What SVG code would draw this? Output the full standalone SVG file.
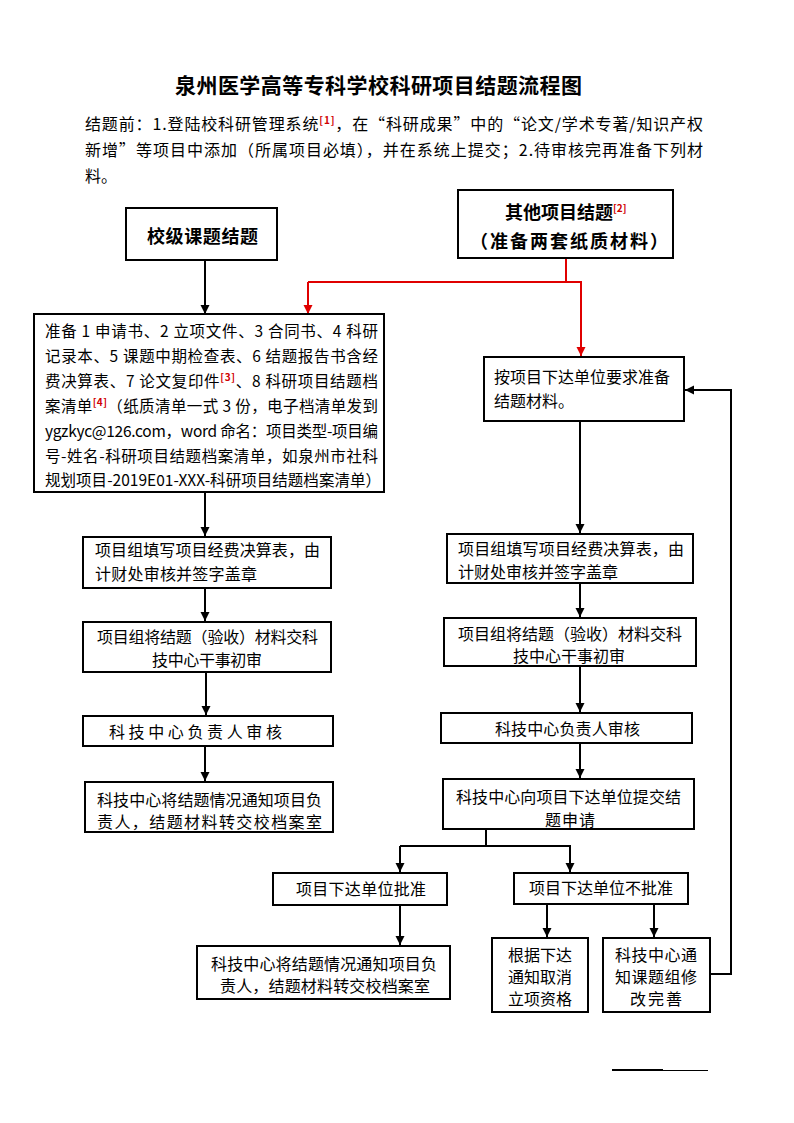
<svg xmlns="http://www.w3.org/2000/svg" width="794" height="1123" viewBox="0 0 794 1123">
<style>
text{font-family:"Noto Sans CJK SC","Liberation Sans",sans-serif;font-size:16px;fill:#000}
.s{font-size:15.5px}
.t{font-size:21px;font-weight:bold}
.h{font-size:18px;font-weight:bold}
.sup{font-size:10px;font-weight:bold;fill:#d00000}
rect{fill:#fff;stroke:#000;stroke-width:2}
.c{fill:none;stroke:#000;stroke-width:2}
.r{fill:none;stroke:#e00000;stroke-width:2}
</style>
<defs>
<marker id="a" markerUnits="userSpaceOnUse" markerWidth="10" markerHeight="10" refX="9" refY="4.5" orient="auto"><path d="M0,0 L9,4.5 L0,9 z" fill="#000"/></marker>
<marker id="ar" markerUnits="userSpaceOnUse" markerWidth="10" markerHeight="10" refX="9" refY="4.5" orient="auto"><path d="M0,0 L9,4.5 L0,9 z" fill="#e00000"/></marker>
</defs>
<rect width="794" height="1123" style="fill:#fff;stroke:none"/>

<g id="title">
<text class="t" x="175" y="93" textLength="407" lengthAdjust="spacing">泉州医学高等专科学校科研项目结题流程图</text>
</g>
<g id="intro">
<text x="85" y="130" textLength="618" lengthAdjust="spacing">结题前：1.登陆校科研管理系统<tspan class="sup" dy="-6">[1]</tspan><tspan dy="6">，在“科研成果”中的“论文/学术专著/知识产权</tspan></text>
<text x="85" y="156" textLength="618" lengthAdjust="spacing">新增”等项目中添加（所属项目必填），并在系统上提交；2.待审核完再准备下列材</text>
<text x="85" y="182">料。</text>
</g>

<g id="connectors">
<line class="c" x1="205" y1="260" x2="205" y2="314" marker-end="url(#a)"/>
<polyline class="r" points="566,258 566,282"/>
<polyline class="r" points="308,282 581,282 581,356" marker-end="url(#ar)"/>
<line class="r" x1="308" y1="282" x2="308" y2="314" marker-end="url(#ar)"/>
<line class="c" x1="205" y1="492" x2="205" y2="536" marker-end="url(#a)"/>
<line class="c" x1="205" y1="588" x2="205" y2="621" marker-end="url(#a)"/>
<line class="c" x1="206" y1="672" x2="206" y2="715" marker-end="url(#a)"/>
<line class="c" x1="205" y1="746" x2="205" y2="781" marker-end="url(#a)"/>
<line class="c" x1="580" y1="421" x2="580" y2="533" marker-end="url(#a)"/>
<line class="c" x1="580" y1="583" x2="580" y2="617" marker-end="url(#a)"/>
<line class="c" x1="580" y1="666" x2="580" y2="712" marker-end="url(#a)"/>
<line class="c" x1="580" y1="743" x2="580" y2="778" marker-end="url(#a)"/>
<polyline class="c" points="486,829 486,846"/>
<polyline class="c" points="400,846 570,846 570,872" marker-end="url(#a)"/>
<line class="c" x1="400" y1="846" x2="400" y2="872" marker-end="url(#a)"/>
<line class="c" x1="400" y1="905" x2="400" y2="945" marker-end="url(#a)"/>
<line class="c" x1="547" y1="904" x2="547" y2="937" marker-end="url(#a)"/>
<line class="c" x1="654" y1="904" x2="654" y2="937" marker-end="url(#a)"/>
<polyline class="c" points="710,974 731,974 731,390 685,390" marker-end="url(#a)"/>
<line x1="612" y1="1070" x2="663" y2="1070" stroke="#000" stroke-width="2"/>
<line x1="663" y1="1070.5" x2="708" y2="1070.5" stroke="#000" stroke-width="1"/>
</g>

<g id="n-school">
<rect x="126" y="208" width="151" height="52"/>
<text class="h" x="147" y="243" textLength="111" lengthAdjust="spacing">校级课题结题</text>
</g>
<g id="n-other">
<rect x="458" y="190" width="215" height="68"/>
<text class="h" x="505" y="219">其他项目结题<tspan class="sup" dy="-7">[2]</tspan></text>
<text class="h" x="470" y="248" textLength="198" lengthAdjust="spacing">（准备两套纸质材料）</text>
</g>
<g id="n-list">
<rect x="34" y="314" width="350" height="178"/>
<text class="s" x="45" y="337" textLength="333" lengthAdjust="spacing">准备 1 申请书、2 立项文件、3 合同书、4 科研</text>
<text class="s" x="45" y="362" textLength="333" lengthAdjust="spacing">记录本、5 课题中期检查表、6 结题报告书含经</text>
<text class="s" x="45" y="387" textLength="333" lengthAdjust="spacing">费决算表、7 论文复印件<tspan class="sup" dy="-6">[3]</tspan><tspan dy="6">、8 科研项目结题档</tspan></text>
<text class="s" x="45" y="412" textLength="333" lengthAdjust="spacing">案清单<tspan class="sup" dy="-6">[4]</tspan><tspan dy="6">（纸质清单一式 3 份，电子档清单发到</tspan></text>
<text class="s" x="45" y="437" textLength="333" lengthAdjust="spacing">ygzkyc@126.com，word 命名：项目类型-项目编</text>
<text class="s" x="45" y="462" textLength="333" lengthAdjust="spacing">号-姓名-科研项目结题档案清单，如泉州市社科</text>
<text class="s" x="45" y="486" textLength="336" lengthAdjust="spacing">规划项目-2019E01-XXX-科研项目结题档案清单）</text>
</g>
<g id="n-l1">
<rect x="83" y="537" width="248" height="51"/>
<text x="95" y="556" textLength="225" lengthAdjust="spacing">项目组填写项目经费决算表，由</text>
<text x="95" y="580" textLength="162" lengthAdjust="spacing">计财处审核并签字盖章</text>
</g>
<g id="n-l2">
<rect x="83" y="622" width="248" height="50"/>
<text x="97" y="643" textLength="221" lengthAdjust="spacing">项目组将结题（验收）材料交科</text>
<text x="152" y="666" textLength="110" lengthAdjust="spacing">技中心干事初审</text>
</g>
<g id="n-l3">
<rect x="83" y="716" width="250" height="30"/>
<text x="109" y="738" textLength="173" lengthAdjust="spacing">科技中心负责人审核</text>
</g>
<g id="n-l4">
<rect x="85" y="782" width="248" height="50"/>
<text x="97" y="806" textLength="225" lengthAdjust="spacing">科技中心将结题情况通知项目负</text>
<text x="97" y="828" textLength="225" lengthAdjust="spacing">责人，结题材料转交校档案室</text>
</g>
<g id="n-r0">
<rect x="484" y="357" width="200" height="64"/>
<text x="494" y="383" textLength="176" lengthAdjust="spacing">按项目下达单位要求准备</text>
<text x="494" y="407" textLength="80" lengthAdjust="spacing">结题材料。</text>
</g>
<g id="n-r1">
<rect x="447" y="534" width="246" height="49"/>
<text x="458" y="555" textLength="226" lengthAdjust="spacing">项目组填写项目经费决算表，由</text>
<text x="458" y="578" textLength="160" lengthAdjust="spacing">计财处审核并签字盖章</text>
</g>
<g id="n-r2">
<rect x="444" y="618" width="252" height="48"/>
<text x="458" y="640" textLength="224" lengthAdjust="spacing">项目组将结题（验收）材料交科</text>
<text x="513" y="662" textLength="112" lengthAdjust="spacing">技中心干事初审</text>
</g>
<g id="n-r3">
<rect x="441" y="713" width="251" height="30"/>
<text x="495" y="735" textLength="145" lengthAdjust="spacing">科技中心负责人审核</text>
</g>
<g id="n-r4">
<rect x="443" y="779" width="251" height="50"/>
<text x="456" y="803" textLength="225" lengthAdjust="spacing">科技中心向项目下达单位提交结</text>
<text x="545" y="826" textLength="50" lengthAdjust="spacing">题申请</text>
</g>
<g id="n-approve">
<rect x="273" y="873" width="174" height="32"/>
<text x="296" y="895" textLength="130" lengthAdjust="spacing">项目下达单位批准</text>
</g>
<g id="n-reject">
<rect x="514" y="873" width="174" height="31"/>
<text x="529" y="894" textLength="144" lengthAdjust="spacing">项目下达单位不批准</text>
</g>
<g id="n-archive">
<rect x="197" y="946" width="253" height="53"/>
<text x="211" y="970" textLength="226" lengthAdjust="spacing">科技中心将结题情况通知项目负</text>
<text x="220" y="992" textLength="210" lengthAdjust="spacing">责人，结题材料转交校档案室</text>
</g>
<g id="n-cancel">
<rect x="492" y="938" width="96" height="74"/>
<text x="508" y="961">根据下达</text>
<text x="508" y="983">通知取消</text>
<text x="508" y="1005">立项资格</text>
</g>
<g id="n-revise">
<rect x="603" y="938" width="107" height="74"/>
<text x="615" y="961" textLength="82" lengthAdjust="spacing">科技中心通</text>
<text x="615" y="983" textLength="82" lengthAdjust="spacing">知课题组修</text>
<text x="630" y="1005" textLength="52" lengthAdjust="spacing">改完善</text>
</g>
</svg>
